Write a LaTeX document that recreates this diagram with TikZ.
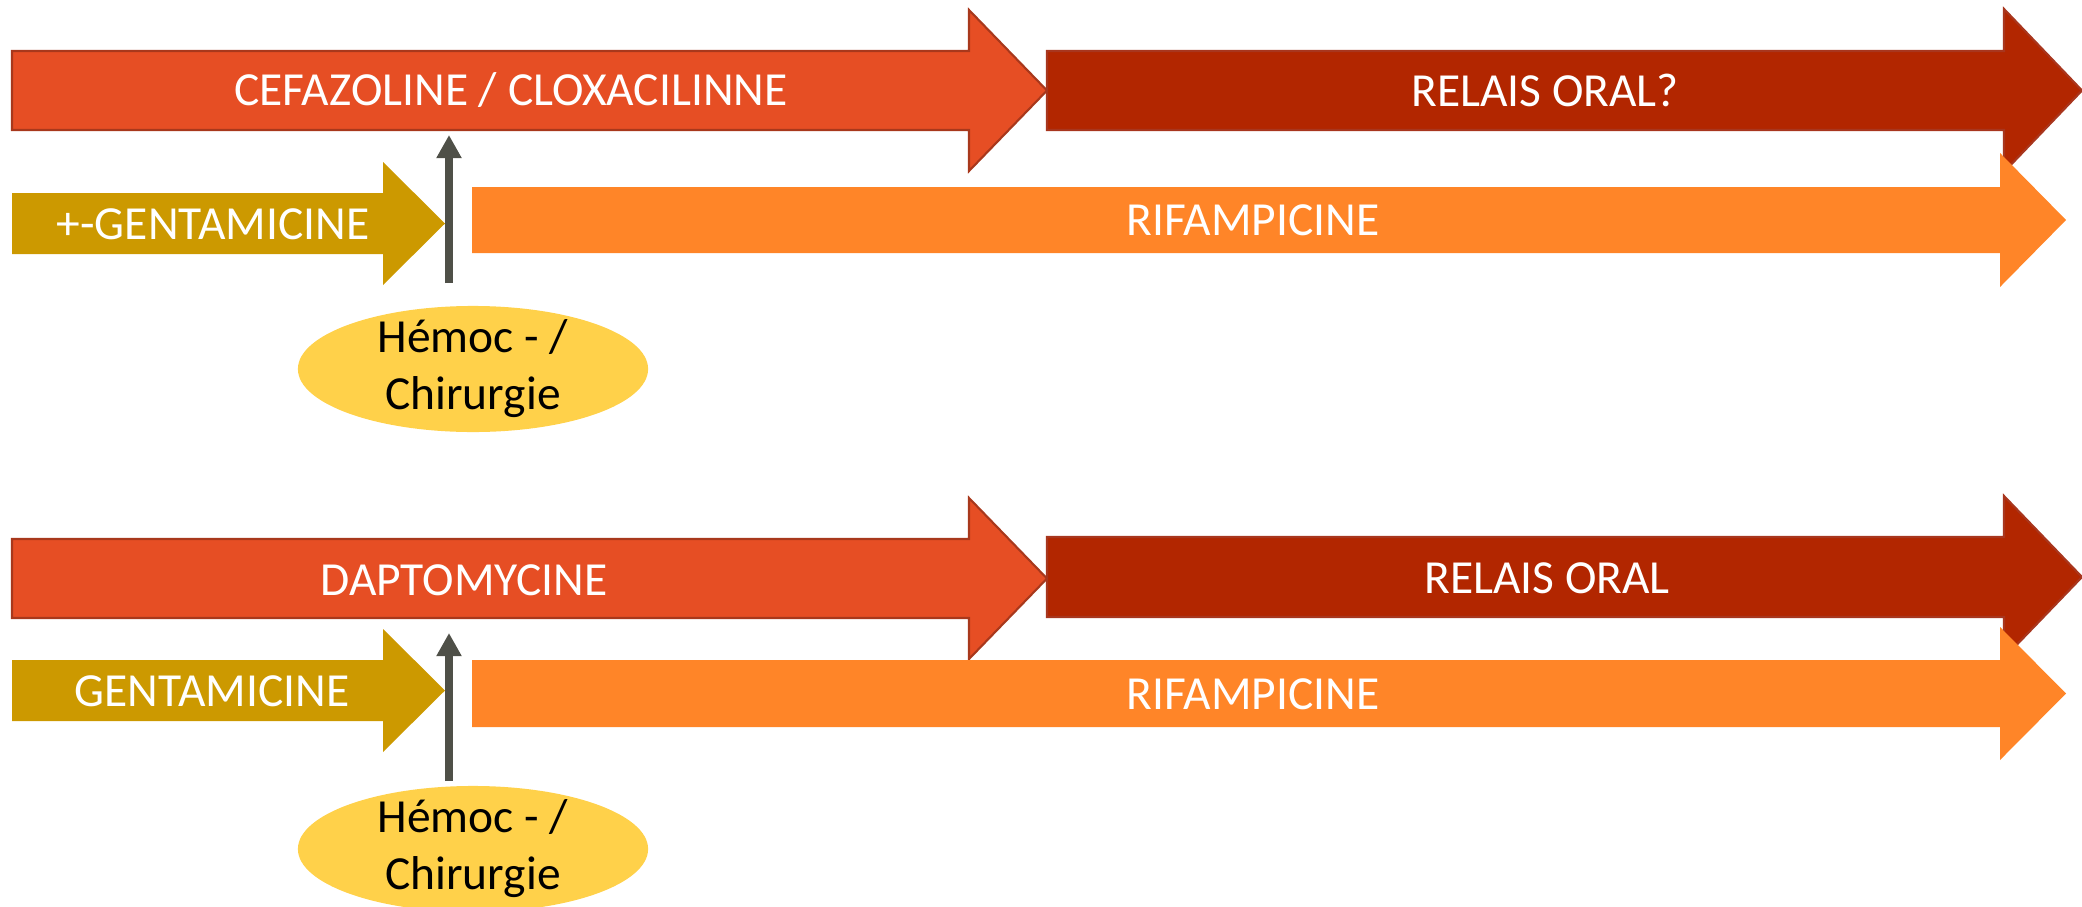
\documentclass[tikz,border=0pt]{standalone}
\usepackage{xcolor}
\usepackage{fontspec}
\setmainfont{Carlito}
\usepackage{tikz}
\usetikzlibrary{arrows.meta}
\usetikzlibrary{shapes.geometric}

\definecolor{cefacol}{HTML}{E64E24}
\definecolor{cefaline}{HTML}{A8381C}
\definecolor{relaiscol}{HTML}{B22600}
\definecolor{relaisline}{HTML}{A8361E}
\definecolor{gentacol}{HTML}{CC9900}
\definecolor{rifacol}{HTML}{FF8528}
\definecolor{hemoccol}{HTML}{FFD14A}
\definecolor{vertcol}{HTML}{4F5048}

\begin{document}
\begin{tikzpicture}[x=0.01cm,y=-0.01cm,
		lbl/.style={text=white,font=\fontsize{13.5}{16}\selectfont},
		hemtext/.style={text=black,align=center,font=\fontsize{13.5}{16.2}\selectfont},
		hemoc/.style={ellipse,fill=hemoccol,inner sep=0pt,minimum width=3.5cm,minimum height=1.26cm},
		vert/.style={draw=vertcol,line width=2.3pt,-{Triangle[length=6.6pt,width=6.8pt]}}]
		\useasboundingbox (0,0) rectangle (2082,906);
		\clip (0,0) rectangle (2082,906);
		\def\lw{0.6pt}
		\filldraw [fill=cefacol,draw=cefaline,line width=\lw] (12,51) -- (969,51) -- (969,10) -- (1047,90.5) -- (969,171) -- (969,130) -- (12,130) -- cycle;
		\filldraw [fill=relaiscol,draw=relaisline,line width=\lw] (1047,51) -- (2004,51) -- (2004,9) -- (2082,90.5) -- (2004,172) -- (2004,130) -- (1047,130) -- cycle;
		\fill [gentacol] (12,193) -- (383,193) -- (383,162) -- (445,223.5) -- (383,285) -- (383,254) -- (12,254) -- cycle;
		\fill [rifacol] (472,187) -- (2000,187) -- (2000,153) -- (2066,220) -- (2000,287) -- (2000,253) -- (472,253) -- cycle;
		\node [lbl] (cefa) at (511,90) {CEFAZOLINE / CLOXACILINNE};
		\node [lbl] (relais1) at (1545,90) {RELAIS ORAL?};
		\node [lbl] (genta1) at (213,224) {+-GENTAMICINE};
		\node [lbl] (rifa1) at (1253,220) {RIFAMPICINE};
		\node [hemoc] (hemoc1) at (473,369) {};
		\node [hemtext] (hemlbl1) at (hemoc1.center) {Hémoc - /\\Chirurgie};
		\coordinate (from1) at (449,283);
		\coordinate (to1) at (449,135);
		\draw [vert] (from1) -- (to1);
		\filldraw [fill=cefacol,draw=cefaline,line width=\lw] (12,539) -- (969,539) -- (969,498) -- (1047,578.5) -- (969,659) -- (969,618) -- (12,618) -- cycle;
		\filldraw [fill=relaiscol,draw=relaisline,line width=\lw] (1047,537) -- (2004,537) -- (2004,496) -- (2082,577) -- (2004,658) -- (2004,617) -- (1047,617) -- cycle;
		\fill [gentacol] (12,660) -- (383,660) -- (383,629) -- (445,690.5) -- (383,752) -- (383,721) -- (12,721) -- cycle;
		\fill [rifacol] (472,660) -- (2000,660) -- (2000,627) -- (2066,693.5) -- (2000,760) -- (2000,727) -- (472,727) -- cycle;
		\node [lbl] (dapto) at (464,580) {DAPTOMYCINE};
		\node [lbl] (relais2) at (1547,578) {RELAIS ORAL};
		\node [lbl] (genta2) at (212,691) {GENTAMICINE};
		\node [lbl] (rifa2) at (1253,694) {RIFAMPICINE};
		\node [hemoc] (hemoc2) at (473,849) {};
		\node [hemtext] (hemlbl2) at (hemoc2.center) {Hémoc - /\\Chirurgie};
		\coordinate (from2) at (449,781);
		\coordinate (to2) at (449,633);
		\draw [vert] (from2) -- (to2);
	\end{tikzpicture}
\end{document}
